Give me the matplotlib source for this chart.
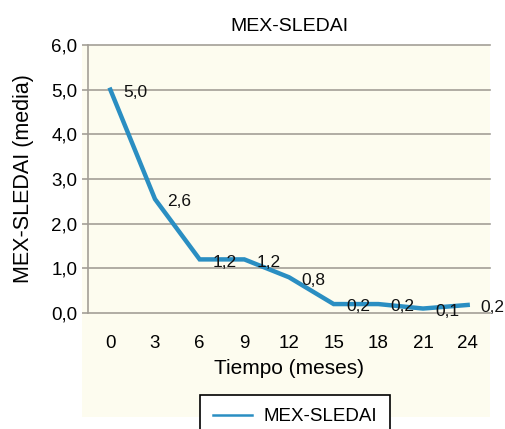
import matplotlib.pyplot as plt
from matplotlib.patches import Rectangle

plt.rcParams['font.family'] = ['Liberation Sans', 'DejaVu Sans']

# mean MEX-SLEDAI per visit
meses = [0, 3, 6, 9, 12, 15, 18, 21, 24]
media = [5.0, 2.55, 1.2, 1.2, 0.8, 0.2, 0.2, 0.1, 0.18]
etiquetas = ['5,0', '2,6', '1,2', '1,2', '0,8', '0,2', '0,2', '0,1', '0,2']
yticks = [0, 1, 2, 3, 4, 5, 6]
ytick_labels = ['0,0', '1,0', '2,0', '3,0', '4,0', '5,0', '6,0']

W, H = 505, 429
fig = plt.figure(figsize=(W / 100, H / 100), dpi=100)

# cream panel behind the plot (includes the x tick label area)
fig.patches.append(Rectangle((82 / W, 1 - 417 / H), (490 - 82) / W, (417 - 45) / H,
                             transform=fig.transFigure, facecolor='#fdfcef',
                             edgecolor='none', zorder=-5))

ax = fig.add_axes([88 / W, 1 - 313 / H, (490 - 88) / W, (313 - 45) / H])
ax.set_facecolor('none')
ax.set_zorder(2)

grid_c = '#a39f97'
for y in yticks:
    ax.axhline(y, color=grid_c, lw=1.2, zorder=1, clip_on=False)

ax.plot(meses, media, color='#2a8ec2', lw=3.2, solid_joinstyle='miter',
        label='MEX-SLEDAI', zorder=3)
for x, y, t in zip(meses, media, etiquetas):
    ax.annotate(t, (x, y), xytext=(9, -2), textcoords='offset points',
                ha='left', va='center', fontsize=12.5, color='#111111',
                annotation_clip=False, zorder=4)

ax.set_xlim(-1.5, 25.5)
ax.set_ylim(0, 6)
ax.set_xticks(meses)
ax.set_xticklabels([str(m) for m in meses])
ax.set_yticks(yticks)
ax.set_yticklabels(ytick_labels)
ax.tick_params(axis='x', length=0, pad=16, labelsize=13.5)
ax.tick_params(axis='y', length=4.3, width=1.2, color=grid_c, pad=3.5, labelsize=13.5)

for s in ['top', 'right', 'bottom']:
    ax.spines[s].set_visible(False)
ax.spines['left'].set_color(grid_c)
ax.spines['left'].set_linewidth(1.2)

ax.set_title('MEX-SLEDAI', fontsize=14, pad=10)
ax.set_xlabel('Tiempo (meses)', fontsize=15, labelpad=5)
ax.set_ylabel('MEX-SLEDAI (media)', fontsize=15.5, labelpad=12)

leg = fig.legend(loc='upper center', bbox_to_anchor=(295 / W, 1 - 395 / H),
                 fontsize=13.5, fancybox=False, edgecolor='black', framealpha=1,
                 handlelength=2.1, borderpad=0.7, handletextpad=0.6,
                 borderaxespad=0)
leg.get_frame().set_linewidth(1.2)
for ln in leg.get_lines():
    ln.set_linewidth(1.8)

fig.savefig('out.png', dpi=100)
